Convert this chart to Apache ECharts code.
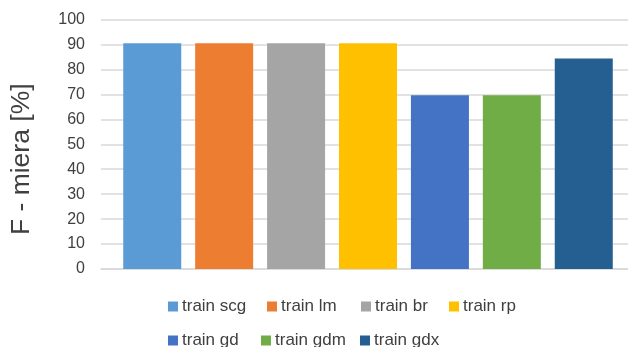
<!DOCTYPE html>
<html>
<head>
<meta charset="utf-8">
<script src="https://cdn.jsdelivr.net/npm/echarts@6/dist/echarts.min.js"></script>
<style>
  html, body { margin: 0; padding: 0; background: #fff; }
  #chart { width: 628px; height: 347px; }
</style>
</head>
<body>
<div id="chart"></div>
<script>
// Training algorithms and the F-measure each one reached (%)
const seriesNames = ['train scg', 'train lm', 'train br', 'train rp', 'train gd', 'train gdm', 'train gdx'];
const fMeasure = [90.5, 90.5, 90.5, 90.5, 69.6, 69.6, 84.4];
const seriesColors = ['#5B9BD5', '#ED7D31', '#A5A5A5', '#FFC000', '#4472C4', '#70AD47', '#255E91'];
const yTicks = [0, 10, 20, 30, 40, 50, 60, 70, 80, 90, 100];
const axisTitle = 'F - miera [%]';

const FONT = '"Liberation Sans", Arial, sans-serif';
const TEXT = '#404040';
const GRID_LINE = '#D9D9D9';

// legend layout: two rows, explicit left offsets per entry
const legendRows = [
  { top: 298, items: [[0, 168], [1, 267], [2, 361], [3, 449]] },
  { top: 332, items: [[4, 168], [5, 261], [6, 360]] }
];
const legends = [];
legendRows.forEach(row => {
  row.items.forEach(([idx, left]) => {
    legends.push({
      data: [seriesNames[idx]],
      left: left,
      top: row.top,
      itemWidth: 10,
      itemHeight: 10,
      itemGap: 4,
      icon: 'rect',
      padding: 0,
      selectedMode: false,
      textStyle: { fontFamily: FONT, fontSize: 17, color: TEXT, padding: [0, 0, 0, -1] }
    });
  });
});

const yMin = yTicks[0];
const yMax = yTicks[yTicks.length - 1];
const yStep = yTicks[1] - yTicks[0];

// grid 0 carries the value axis, labels and gridlines; grid 1 holds the bar cluster
const series = seriesNames.map((name, i) => ({
  name: name,
  type: 'bar',
  xAxisIndex: 1,
  yAxisIndex: 1,
  data: [fMeasure[i]],
  barWidth: 58,
  barGap: '24%',
  itemStyle: { color: seriesColors[i] },
  emphasis: { disabled: true }
}));

const chart = echarts.init(document.getElementById('chart'), null, { renderer: 'canvas' });
chart.setOption({
  animation: false,
  backgroundColor: '#fff',
  grid: [
    { left: 101, right: 0, top: 19.5, bottom: 78 },
    { left: 108, right: 0, top: 19.5, bottom: 78 }
  ],
  legend: legends,
  xAxis: [
    {
      gridIndex: 0,
      type: 'category',
      data: [''],
      axisLine: { show: true, lineStyle: { color: GRID_LINE, width: 1.5 } },
      axisTick: { show: false },
      axisLabel: { show: false }
    },
    {
      gridIndex: 1,
      type: 'category',
      data: [''],
      axisLine: { show: false },
      axisTick: { show: false },
      axisLabel: { show: false }
    }
  ],
  yAxis: [
    {
      gridIndex: 0,
      type: 'value',
      min: yMin,
      max: yMax,
      interval: yStep,
      name: axisTitle,
      nameLocation: 'middle',
      nameGap: 66,
      nameTextStyle: { fontFamily: FONT, fontSize: 26.5, color: TEXT, padding: [0, 30, 0, 0] },
      axisLine: { show: false },
      axisTick: { show: false },
      axisLabel: { fontFamily: FONT, fontSize: 16, color: TEXT, margin: 16 },
      splitLine: { lineStyle: { color: GRID_LINE, width: 1.5 } }
    },
    {
      gridIndex: 1,
      type: 'value',
      min: yMin,
      max: yMax,
      interval: yStep,
      axisLine: { show: false },
      axisTick: { show: false },
      axisLabel: { show: false },
      splitLine: { show: false }
    }
  ],
  series: series
});
</script>
</body>
</html>
